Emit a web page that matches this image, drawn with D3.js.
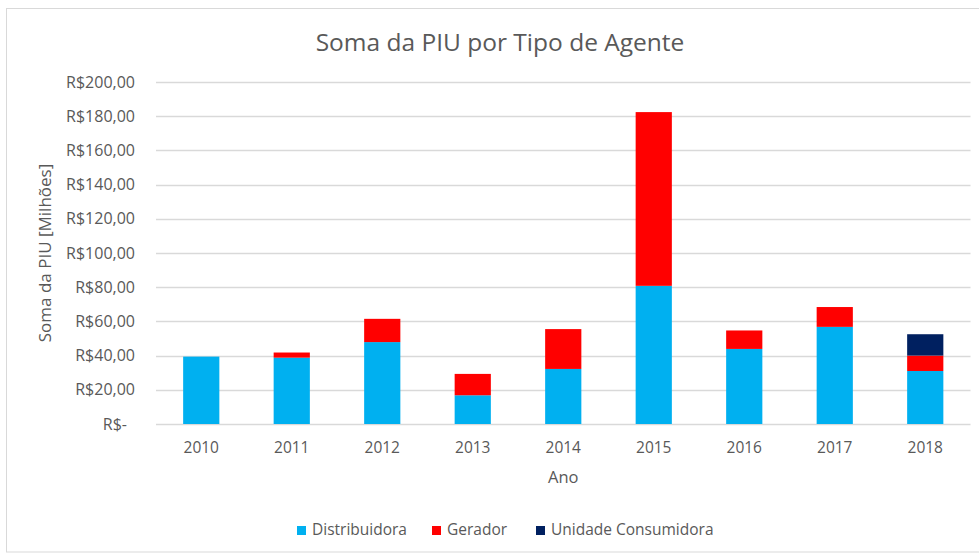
<!DOCTYPE html>
<html><head><meta charset="utf-8">
<script src="https://cdn.jsdelivr.net/npm/d3@7"></script>
<style>
html,body{margin:0;padding:0;background:#fff;}
svg{display:block;font-family:"Open Sans",sans-serif;}
</style></head>
<body>
<svg id="chart" width="979" height="553"></svg>
<script>
const years = ["2010","2011","2012","2013","2014","2015","2016","2017","2018"];
const distribuidora = [39.4, 38.8, 47.9, 16.8, 32.2, 80.8, 43.9, 56.8, 31.0];
const gerador = [0, 3.0, 13.6, 12.5, 23.3, 101.6, 10.8, 11.6, 9.0];
const unidadeConsumidora = [0, 0, 0, 0, 0, 0, 0, 0, 12.5];
const seriesNames = ["Distribuidora", "Gerador", "Unidade Consumidora"];
const seriesColors = ["#00B0F0", "#FF0000", "#002060"];
const yTicks = [0, 20, 40, 60, 80, 100, 120, 140, 160, 180, 200];

const svg = d3.select("#chart");
const textColor = "#595959";

// chart border
svg.append("rect").attr("x", 6.5).attr("y", 8.5).attr("width", 1000).attr("height", 543.5)
  .attr("fill", "none").attr("stroke", "#d9d9d9").attr("stroke-width", 1);

const plot = {left: 156, right: 970.5, top: 82, bottom: 424};

const x = d3.scaleBand().domain(years).range([plot.left, plot.right]).paddingInner(0.6).paddingOuter(0.3);
const y = d3.scaleLinear().domain([0, 200]).range([plot.bottom, plot.top]);

const locale = d3.formatLocale({decimal: ",", thousands: ".", grouping: [3], currency: ["R$", ""]});
const fmt = locale.format("$,.2f");

// gridlines
svg.append("g").selectAll("line").data(yTicks).join("line")
  .attr("x1", plot.left).attr("x2", plot.right)
  .attr("y1", d => Math.round(y(d)) + 0.5).attr("y2", d => Math.round(y(d)) + 0.5)
  .attr("stroke", "#d9d9d9").attr("stroke-width", 1.3);

// y axis labels
const yAxis = d3.axisLeft(y).tickValues(yTicks).tickSize(0).tickPadding(0)
  .tickFormat(d => d === 0 ? "R$-" : fmt(d));
const gy = svg.append("g").attr("transform", `translate(135,0)`).call(yAxis);
gy.select(".domain").remove();
gy.selectAll("text").attr("fill", textColor).style("font-size", "16px")
  .style("font-family", "'Open Sans',sans-serif")
  .attr("dx", d => d === 0 ? -8 : 0);

// x axis labels
const xFs = 15.5;
const xAxis = d3.axisBottom(x).tickSize(0).tickPadding(0);
const gx = svg.append("g").attr("transform", `translate(0,${453 - 0.71 * xFs})`).call(xAxis);
gx.select(".domain").remove();
gx.selectAll("text").attr("fill", textColor).style("font-size", xFs + "px")
  .style("font-family", "'Open Sans',sans-serif");

// stacked bars
const rows = years.map((yr, i) => ({year: yr, "Distribuidora": distribuidora[i], "Gerador": gerador[i], "Unidade Consumidora": unidadeConsumidora[i]}));
const stack = d3.stack().keys(seriesNames)(rows);
svg.append("g").selectAll("g").data(stack).join("g")
  .attr("fill", (d, i) => seriesColors[i])
  .selectAll("rect").data(d => d.filter(s => s[1] - s[0] > 0)).join("rect")
  .attr("x", d => x(d.data.year))
  .attr("width", x.bandwidth())
  .attr("y", d => y(d[1]))
  .attr("height", d => y(d[0]) - y(d[1]));

// title
svg.append("text").attr("x", 500).attr("y", 51).attr("text-anchor", "middle")
  .attr("fill", textColor).style("font-size", "24.5px").text("Soma da PIU por Tipo de Agente");

// axis titles
svg.append("text").attr("x", (plot.left + plot.right) / 2).attr("y", 483).attr("text-anchor", "middle")
  .attr("fill", textColor).style("font-size", "16.5px").text("Ano");
svg.append("text").attr("transform", `translate(51,${(plot.top + plot.bottom) / 2}) rotate(-90)`)
  .attr("text-anchor", "middle").attr("fill", textColor).style("font-size", "17px")
  .text("Soma da PIU [Milhões]");

// legend
const legendX = [297, 432, 536];
const lg = svg.append("g").selectAll("g").data(seriesNames).join("g")
  .attr("transform", (d, i) => `translate(${legendX[i]},530)`);
lg.append("rect").attr("x", 0).attr("y", -4).attr("width", 9).attr("height", 9)
  .attr("fill", (d, i) => seriesColors[i]);
lg.append("text").attr("x", 15).attr("y", 0).attr("dy", "0.35em")
  .attr("fill", textColor).style("font-size", "15.5px").text(d => d);
</script>
</body></html>
